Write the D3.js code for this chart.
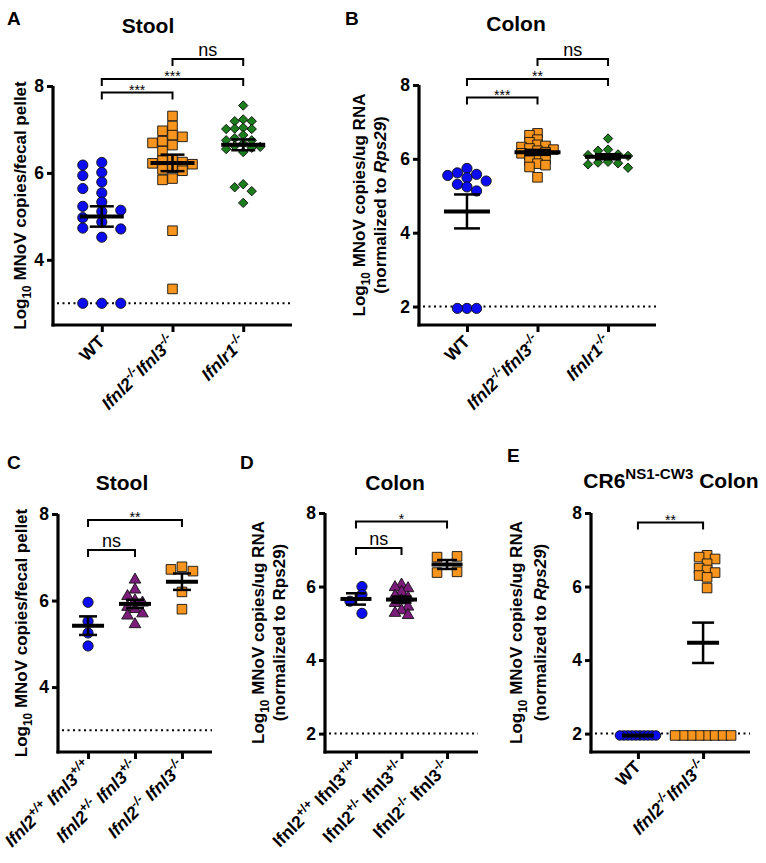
<!DOCTYPE html>
<html><head><meta charset="utf-8">
<script src="https://cdn.jsdelivr.net/npm/d3@7"></script>
<style>
body{margin:0;background:#fff}
svg{display:block}
text{font-family: Arial, "Liberation Sans", Helvetica, sans-serif;}
</style>
</head><body>
<svg id="chart" width="766" height="863"></svg>
<script>
// ---------------- DATA ----------------
const catsA = ["WT", "Ifnl2^{-/-}Ifnl3^{-/-}", "Ifnlr1^{-/-}"];
const catsC = ["Ifnl2^{+/+} Ifnl3^{+/+}", "Ifnl2^{+/-} Ifnl3^{+/-}", "Ifnl2^{-/-} Ifnl3^{-/-}"];
const catsE = ["WT", "Ifnl2^{-/-}Ifnl3^{-/-}"];

// Panel A: stool
const stoolWT  = [6.24, 6.18, 6.01, 5.94, 5.79, 5.64, 5.54, 5.33, 5.23, 5.14, 5.11, 4.97, 4.87, 4.73, 4.71, 4.52, 3, 3, 3];
const stoolDKO = [7.31, 7.08, 6.97, 6.87, 6.83, 6.73, 6.69, 6.64, 6.50, 6.31, 6.28, 6.25, 6.22, 6.20, 6.12, 6.08, 6.05, 5.87, 5.84, 4.67, 3.33];
const stoolR1  = [7.55, 7.23, 7.19, 7.19, 7.04, 7.02, 7.01, 7.01, 6.87, 6.80, 6.75, 6.75, 6.68, 6.62, 6.60, 6.58, 6.55, 6.48, 5.74, 5.67, 5.58, 5.31];
// Panel B: colon
const colonWT  = [5.74, 5.62, 5.58, 5.55, 5.49, 5.40, 5.31, 5.24, 5.13, 1.95, 1.95, 1.95];
const colonDKO = [6.69, 6.64, 6.52, 6.45, 6.38, 6.35, 6.32, 6.28, 6.25, 6.22, 6.18, 6.15, 6.10, 6.05, 6.00, 5.95, 5.87, 5.83, 5.78, 5.50];
const colonR1  = [6.55, 6.25, 6.22, 6.12, 6.10, 6.08, 5.92, 5.90, 5.88, 5.85, 5.76];
// Panel C: stool, littermates
const hetStoolWT  = [5.96, 5.52, 5.25, 4.95];
const hetStoolHet = [6.48, 6.25, 6.10, 6.00, 5.95, 5.85, 5.80, 5.70, 5.65, 5.45];
const hetStoolKO  = [6.78, 6.72, 6.68, 6.20, 5.80];
// Panel D: colon, littermates
const hetColonWT  = [6.00, 5.78, 5.60, 5.27];
const hetColonHet = [6.05, 5.98, 5.95, 5.85, 5.75, 5.70, 5.62, 5.55, 5.45, 5.35, 5.28, 5.22];
const hetColonKO  = [6.82, 6.80, 6.40, 6.38];
// Panel E: CR6 NS1-CW3 colon
const cwWT  = [1.95, 1.95, 1.95, 1.95, 1.95, 1.95, 1.95, 1.95, 1.95, 1.95];
const cwDKO = [6.85, 6.80, 6.75, 6.62, 6.50, 6.45, 6.38, 6.30, 6.25, 5.96, 1.95, 1.95, 1.95, 1.95, 1.95, 1.95, 1.95, 1.95];

// significance comparisons [from, to, label]
const sigA = [[0, 1, "***"], [0, 2, "***"], [1, 2, "ns"]];
const sigB = [[0, 1, "***"], [0, 2, "**"], [1, 2, "ns"]];
const sigC = [[0, 1, "ns"], [0, 2, "**"]];
const sigD = [[0, 1, "ns"], [0, 2, "*"]];
const sigE = [[0, 1, "**"]];

// ---------------- STYLE / LAYOUT ----------------
const COL = {blue: "#0c0cf2", orange: "#f7941d", green: "#1b7d1b", purple: "#7b1c7b"};
const FONT = 'Arial, "Liberation Sans", Helvetica, sans-serif';
const svg = d3.select("#chart");

const panels = [
  {letter: "A", lx: 7, ly: 25, title: [["Stool"]], tx: 148, ty: 33,
   x0: 53, x1: 292, yTop: 86, yBot: 325, dom: [2.5, 8], ticks: [4, 6, 8], lod: 3, pad: 0.69,
   cats: catsA, italic: [false, true, true], labDy: 18,
   ylab: [[["Log"], ["10", "sub"], [" MNoV copies/fecal pellet"]]], ylabX: [26],
   meanHW: 22, capHW: 12,
   series: [
     {v: stoolWT, shape: "circle", color: COL.blue, size: 82, step: 19, md: 9},
     {v: stoolDKO, shape: "square", color: COL.orange, size: 92, step: 10, md: 8},
     {v: stoolR1, shape: "diamond", color: COL.green, size: 44, step: 8.5, md: 7}],
   sig: sigA, sigY: [92.5, 79, 59]},
  {letter: "B", lx: 345, ly: 25, title: [["Colon"]], tx: 516, ty: 31,
   x0: 419, x1: 656, yTop: 85, yBot: 325, dom: [1.5, 8], ticks: [2, 4, 6, 8], lod: 2, pad: 0.68,
   cats: catsA, italic: [false, true, true], labDy: 18,
   ylab: [[["Log"], ["10", "sub"], [" MNoV copies/ug RNA"]],
          [["(normalized to "], ["Rps29", "it"], [")"]]], ylabX: [365, 386],
   meanHW: 23, capHW: 13,
   series: [
     {v: colonWT, shape: "circle", color: COL.blue, size: 82, step: 9.6, md: 9},
     {v: colonDKO, shape: "square", color: COL.orange, size: 92, step: 8, md: 5},
     {v: colonR1, shape: "diamond", color: COL.green, size: 44, step: 10, md: 7}],
   sig: sigB, sigY: [97.5, 79, 59]},
  {letter: "C", lx: 7, ly: 469, title: [["Stool"]], tx: 122, ty: 490,
   x0: 58, x1: 212, yTop: 514, yBot: 752, dom: [2.5, 8], ticks: [4, 6, 8], lod: 3, pad: 0.64,
   cats: catsC, italic: [true, true, true], labDy: 16,
   ylab: [[["Log"], ["10", "sub"], [" MNoV copies/fecal pellet"]]], ylabX: [27],
   meanHW: 16, capHW: 9,
   series: [
     {v: hetStoolWT, shape: "circle", color: COL.blue, size: 82, step: 10, md: 5},
     {v: hetStoolHet, shape: "triangle", color: COL.purple, size: 58, step: 7.5, md: 7},
     {v: hetStoolKO, shape: "square", color: COL.orange, size: 92, step: 11, md: 9}],
   sig: sigC, sigY: [550, 520]},
  {letter: "D", lx: 240, ly: 469, title: [["Colon"]], tx: 395, ty: 490,
   x0: 325, x1: 478, yTop: 513, yBot: 752, dom: [1.5, 8], ticks: [2, 4, 6, 8], lod: 2, pad: 0.68,
   cats: catsC, italic: [false, false, false], labDy: 16,
   ylab: [[["Log"], ["10", "sub"], [" MNoV copies/ug RNA"]],
          [["(normalized to Rps29)"]]], ylabX: [264, 285],
   meanHW: 15.5, capHW: 10,
   series: [
     {v: hetColonWT, shape: "circle", color: COL.blue, size: 82, step: 12, md: 8},
     {v: hetColonHet, shape: "triangle", color: COL.purple, size: 58, step: 6.5, md: 7},
     {v: hetColonKO, shape: "square", color: COL.orange, size: 92, step: 20, md: 9}],
   sig: sigD, sigY: [548, 521.5]},
  {letter: "E", lx: 507, ly: 462, title: [["CR6"], ["NS1-CW3", "sup"], [" Colon"]], tx: 671, ty: 488,
   x0: 591, x1: 750, yTop: 513, yBot: 752, dom: [1.5, 8], ticks: [2, 4, 6, 8], lod: 2, pad: 0.72,
   cats: catsE, italic: [false, true], labDy: 16,
   ylab: [[["Log"], ["10", "sub"], [" MNoV copies/ug RNA"]],
          [["(normalized to "], ["Rps29", "it"], [")"]]], ylabX: [522, 546],
   meanHW: 16, capHW: 11,
   series: [
     {v: cwWT, shape: "circle", color: COL.blue, size: 72, step: 4, md: 6},
     {v: cwDKO, shape: "square", color: COL.orange, size: 92, step: 8, md: 6}],
   sig: sigE, sigY: [522.5]}
];

// ---------------- HELPERS ----------------
function symbolFor(shape, size) {
  if (shape === "circle") return d3.symbol(d3.symbolCircle, size)();
  if (shape === "square") return d3.symbol(d3.symbolSquare, size)();
  if (shape === "triangle") return d3.symbol(d3.symbolTriangle, size)();
  if (shape === "diamond") return d3.symbol(d3.symbolSquare, size)();
}

// greedy column layout (GraphPad-like scatter), centred afterwards
function jitter(vals, y, step, md) {
  const placed = [];
  const ks = vals.map(v => {
    const py = y(v);
    for (let i = 0; i < 40; i++) {
      const k = i === 0 ? 0 : (i % 2 ? -Math.ceil(i / 2) : Math.ceil(i / 2));
      if (placed.every(p => p.k !== k || Math.abs(p.py - py) >= md)) {
        placed.push({k, py});
        return k;
      }
    }
    return 0;
  });
  const shift = -(d3.min(ks) + d3.max(ks)) / 2;
  return ks.map(k => (k + shift) * step);
}

// parse "Ifnl2^{-/-}Ifnl3^{-/-}" into segments
function parseLabel(s) {
  const segs = [];
  const re = /\^\{([^}]*)\}/g;
  let last = 0, m;
  while ((m = re.exec(s)) !== null) {
    if (m.index > last) segs.push([s.slice(last, m.index)]);
    segs.push([m[1], "sup"]);
    last = re.lastIndex;
  }
  if (last < s.length) segs.push([s.slice(last)]);
  return segs;
}

// render segments into a text element. base font size fs
function addSegments(textSel, segs, fs, italicAll) {
  let shift = 0;
  segs.forEach(([t, kind]) => {
    const ts = textSel.append("tspan").text(t);
    let target = 0, size = fs;
    if (kind === "sup") { target = -fs * 0.42; size = fs * 0.72; }
    if (kind === "sub") { target = fs * 0.3; size = fs * 0.7; }
    ts.attr("dy", target - shift).attr("font-size", size);
    if (kind === "it" || italicAll) ts.attr("font-style", "italic");
    shift = target;
  });
}

// ---------------- DRAW ----------------
panels.forEach(P => {
  const g = svg.append("g");
  const y = d3.scaleLinear().domain(P.dom).range([P.yBot, P.yTop]);
  const x = d3.scalePoint().domain(d3.range(P.cats.length)).range([P.x0, P.x1]).padding(P.pad);

  // panel letter
  g.append("text").attr("x", P.lx).attr("y", P.ly).attr("font-size", 19).attr("font-weight", "bold").text(P.letter);
  // title
  const tt = g.append("text").attr("x", P.tx).attr("y", P.ty).attr("text-anchor", "middle")
    .attr("font-size", 21).attr("font-weight", "bold");
  addSegments(tt, P.title, 21, false);

  // y label(s)
  const ymid = (P.yTop + P.yBot) / 2;
  P.ylab.forEach((segs, i) => {
    const t = g.append("text").attr("transform", `translate(${P.ylabX[i]},${ymid}) rotate(-90)`)
      .attr("text-anchor", "middle").attr("font-size", 17).attr("font-weight", "bold");
    addSegments(t, segs, 17, false);
  });

  // LOD dotted line
  g.append("line").attr("x1", P.x0 + 4).attr("x2", P.x1).attr("y1", y(P.lod)).attr("y2", y(P.lod))
    .attr("stroke", "#000").attr("stroke-width", 2).attr("stroke-dasharray", "2,3.5");

  // points
  P.series.forEach((S, i) => {
    const offs = jitter(S.v, y, S.step, S.md);
    const path = symbolFor(S.shape, S.size);
    g.append("g").selectAll("path").data(S.v).join("path")
      .attr("d", path)
      .attr("transform", (d, j) => `translate(${x(i) + offs[j]},${y(d)})` + (S.shape === "diamond" ? " rotate(45)" : ""))
      .attr("fill", S.color).attr("stroke", "#111").attr("stroke-width", 0.9);
  });

  // mean +/- SEM
  P.series.forEach((S, i) => {
    const m = d3.mean(S.v);
    const sem = (d3.deviation(S.v) || 0) / Math.sqrt(S.v.length);
    const cx = x(i);
    const eg = g.append("g").attr("stroke", "#000");
    eg.append("line").attr("x1", cx).attr("x2", cx).attr("y1", y(m + sem)).attr("y2", y(m - sem)).attr("stroke-width", 2.5);
    [m + sem, m - sem].forEach(vv => eg.append("line").attr("x1", cx - P.capHW).attr("x2", cx + P.capHW)
      .attr("y1", y(vv)).attr("y2", y(vv)).attr("stroke-width", 2.5));
    eg.append("line").attr("x1", cx - P.meanHW).attr("x2", cx + P.meanHW).attr("y1", y(m)).attr("y2", y(m)).attr("stroke-width", 4);
  });

  // axes
  const ya = g.append("g").attr("transform", `translate(${P.x0},0)`)
    .call(d3.axisLeft(y).tickValues(P.ticks).tickSize(6).tickSizeOuter(0).tickFormat(d3.format("d")));
  ya.select(".domain").attr("stroke-width", 3.2).attr("d", `M0,${P.yTop}V${P.yBot + 1.5}`);
  ya.selectAll(".tick line").attr("stroke-width", 3);
  ya.selectAll(".tick text").attr("font-size", 17.5).attr("font-weight", "bold").attr("font-family", FONT)
    .attr("x", -9).attr("fill", "#000");

  const xa = g.append("g").attr("transform", `translate(0,${P.yBot})`)
    .call(d3.axisBottom(x).tickSize(7).tickSizeOuter(0).tickFormat(""));
  xa.select(".domain").attr("stroke-width", 3.2).attr("d", `M${P.x0 - 1.5},0H${P.x1}`);
  xa.selectAll(".tick line").attr("stroke-width", 3);

  // x tick labels (rotated)
  P.cats.forEach((c, i) => {
    const t = g.append("text")
      .attr("transform", `translate(${x(i) + 4},${P.yBot + P.labDy}) rotate(-45)`)
      .attr("text-anchor", "end").attr("font-size", 17.5).attr("font-weight", "bold");
    addSegments(t, parseLabel(c), 17.5, P.italic[i]);
  });

  // significance brackets
  P.sig.forEach(([a, b, lab], k) => {
    const yy = P.sigY[k];
    const bg = g.append("g").attr("stroke", "#000").attr("stroke-width", 2).attr("fill", "none");
    bg.append("path").attr("d", `M${x(a)},${yy + 7}V${yy}H${x(b)}V${yy + 7}`);
    const isNs = lab === "ns";
    g.append("text").attr("x", (x(a) + x(b)) / 2).attr("y", isNs ? yy - 3 : yy + 2)
      .attr("text-anchor", "middle").attr("font-size", isNs ? 18 : 14).text(lab);
  });
});
</script>
</body></html>
